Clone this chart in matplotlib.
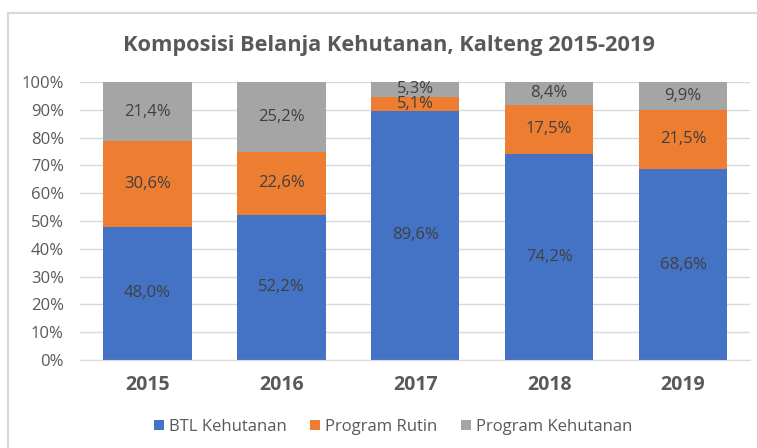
import numpy as np
import matplotlib.pyplot as plt
from matplotlib.patches import Rectangle

# DATA

years = ['2015', '2016', '2017', '2018', '2019']
btl = [48.0, 52.2, 89.6, 74.2, 68.6]
rutin = [30.6, 22.6, 5.1, 17.5, 21.5]
program = [21.4, 25.2, 5.3, 8.4, 9.9]
series_names = ['BTL Kehutanan', 'Program Rutin', 'Program Kehutanan']
colors = ['#4472C4', '#ED7D31', '#A5A5A5']

plt.rcParams['font.family'] = ['Open Sans', 'DejaVu Sans']

fig = plt.figure(figsize=(7.57, 4.48), dpi=100)
ax = fig.add_axes([0.1063, 0.1964, 0.8845, 0.6206])

# chart border (cropped at right/bottom like the reference)
fig.patches.append(Rectangle((8 / 757, -0.1), 1.2, 1 - 13 / 448 + 0.1,
                             transform=fig.transFigure, fill=False,
                             edgecolor='#D9D9D9', linewidth=1.5))

x = np.arange(len(years))
bottom = np.zeros(len(years))
for vals, name, col in zip([btl, rutin, program], series_names, colors):
    vals = np.array(vals)
    ax.bar(x, vals, 0.66, bottom=bottom, color=col, label=name, zorder=2)
    for xi, b, v in zip(x, bottom, vals):
        ax.text(xi, b + v / 2, ('%.1f%%' % v).replace('.', ','),
                ha='center', va='center', fontsize=12, color='#404040', zorder=3)
    bottom += vals

ax.set_xlim(-0.5, len(years) - 0.5)
ax.set_ylim(0, 100)
ax.set_yticks(np.arange(0, 101, 10))
ax.set_yticklabels(['%d%%' % v for v in range(0, 101, 10)])
ax.set_xticks(x)
ax.set_xticklabels(years, fontweight='bold', fontsize=14, color='#595959')
ax.tick_params(axis='y', length=0, pad=12, labelsize=12, labelcolor='#595959')
ax.tick_params(axis='x', length=0, pad=11)
ax.grid(axis='y', color='#D9D9D9', linewidth=1, zorder=0)
for s in ['top', 'right', 'left']:
    ax.spines[s].set_visible(False)
ax.spines['bottom'].set_color('#D9D9D9')

fig.text(389 / 757, 1 - 45 / 448, 'Komposisi Belanja Kehutanan, Kalteng 2015-2019',
         ha='center', va='center', fontsize=15.7, fontweight='bold', color='#595959')

leg = fig.legend(loc='center', bbox_to_anchor=(393 / 757, 1 - 427 / 448), ncol=3,
                 frameon=False, fontsize=12, handlelength=0.6, handleheight=0.6,
                 handletextpad=0.3, columnspacing=1.4)
for t in leg.get_texts():
    t.set_color('#595959')

plt.savefig('out.png', dpi=100)
